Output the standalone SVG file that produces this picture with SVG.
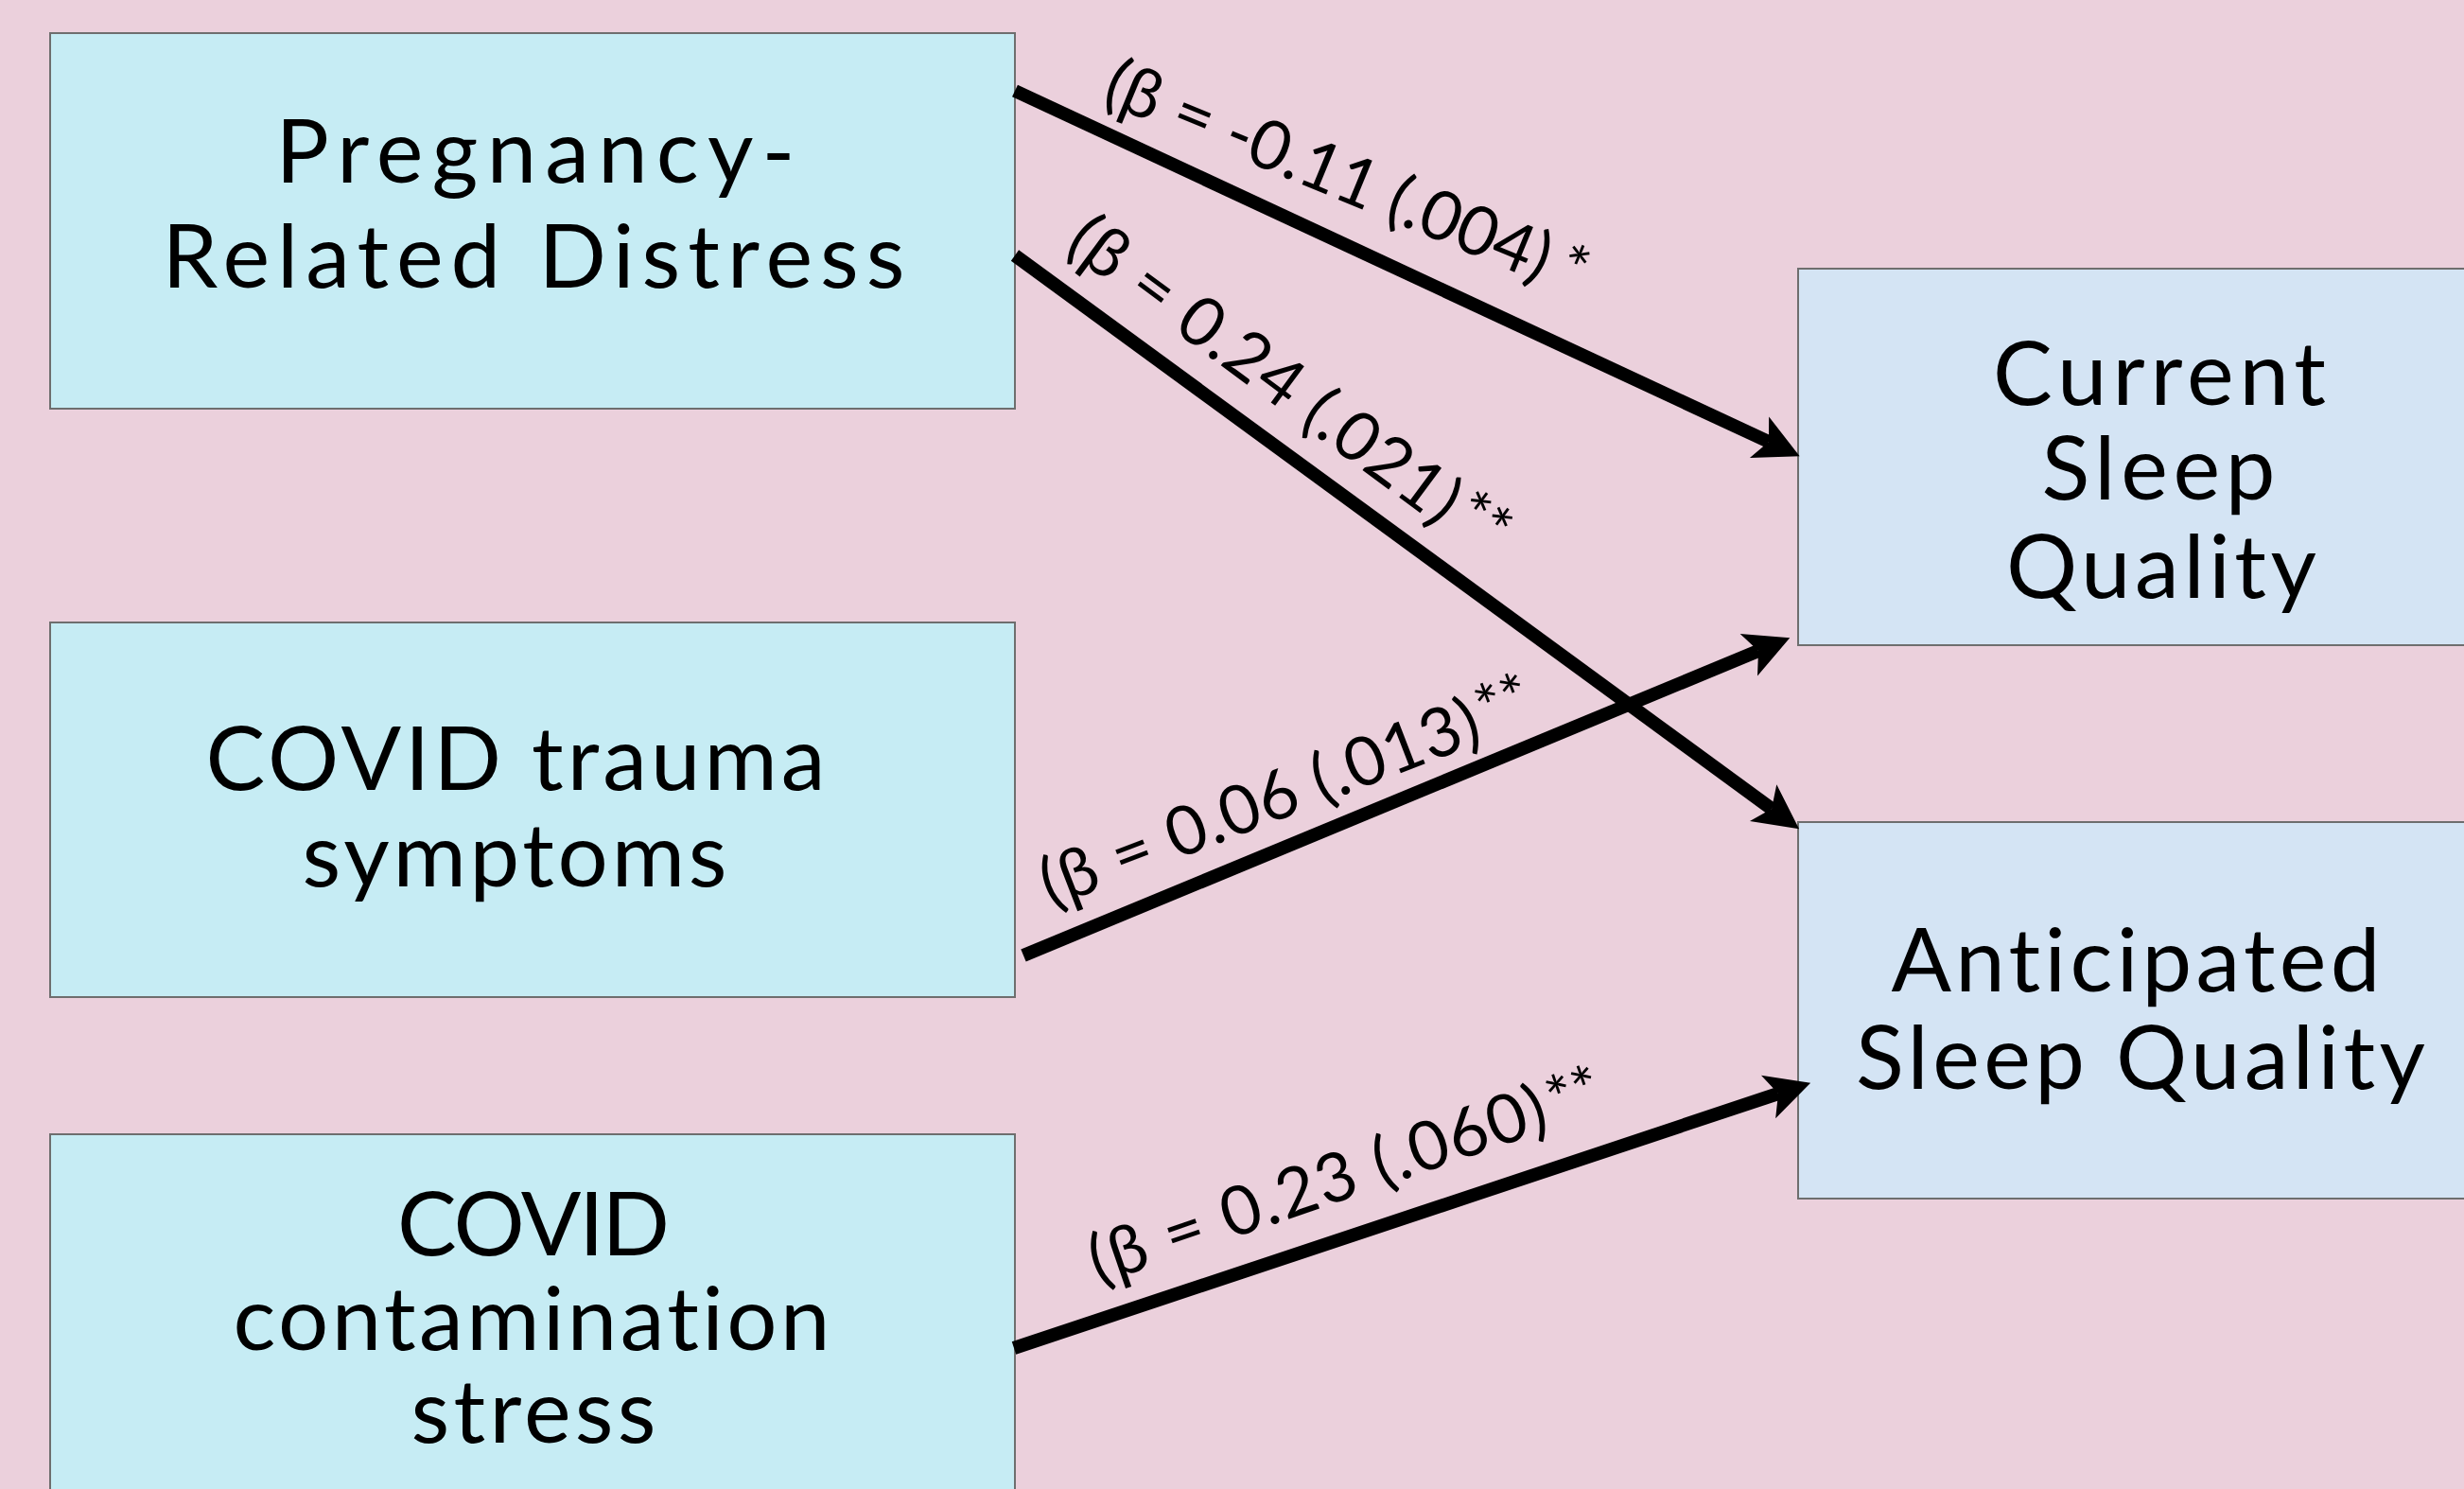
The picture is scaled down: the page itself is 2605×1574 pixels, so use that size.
<svg xmlns="http://www.w3.org/2000/svg" width="2605" height="1574" viewBox="0 0 2605 1574">
<style>
.src{fill:#C6ECF4;stroke:#6E6E6E;stroke-width:2}
.dst{fill:#D4E4F4;stroke:#6E6E6E;stroke-width:2}
.nt{font-family:Lato,"Noto Sans","DejaVu Sans",sans-serif;font-size:94px;fill:#000;text-anchor:middle;font-variant-ligatures:none}
.lb{font-family:Lato,"Noto Sans","DejaVu Sans",sans-serif;font-size:72px;fill:#000;font-variant-ligatures:none}
.st{font-family:Lato,"Noto Sans","DejaVu Sans",sans-serif;font-size:66px;fill:#000;text-anchor:middle}
.edge{fill:none;stroke:#000;stroke-width:14;marker-end:url(#ah)}
</style>
<defs>
<marker id="ah" markerUnits="userSpaceOnUse" viewBox="-14 -26 54 52" markerWidth="54" markerHeight="52" refX="0" refY="0" orient="auto">
<path d="M36,0 L-11,-24 L0,0 L-11,24 Z" fill="#000"/>
</marker>
</defs>
<rect x="0" y="0" width="2605" height="1574" fill="#EBD0DC"/>
<g id="n-pregnancy">
<rect class="src" x="53" y="35" width="1020" height="397"/>
<text class="nt" x="566" y="193" textLength="549" lengthAdjust="spacing">Pregnancy-</text>
<text class="nt" x="564" y="304" textLength="785" lengthAdjust="spacing">Related Distress</text>
</g>
<g id="n-trauma">
<rect class="src" x="53" y="658" width="1020" height="396"/>
<text class="nt" x="545" y="835" textLength="655" lengthAdjust="spacing">COVID trauma</text>
<text class="nt" x="544" y="937" textLength="449" lengthAdjust="spacing">symptoms</text>
</g>
<g id="n-contamination">
<rect class="src" x="53" y="1199" width="1020" height="420"/>
<text class="nt" x="564" y="1327" textLength="288" lengthAdjust="spacing">COVID</text>
<text class="nt" x="562" y="1427" textLength="631" lengthAdjust="spacing">contamination</text>
<text class="nt" x="564" y="1525" textLength="259" lengthAdjust="spacing">stress</text>
</g>
<g id="n-current">
<rect class="dst" x="1901" y="284" width="740" height="398"/>
<text class="nt" x="2283" y="428" textLength="352" lengthAdjust="spacing">Current</text>
<text class="nt" x="2282" y="528" textLength="247" lengthAdjust="spacing">Sleep</text>
<text class="nt" x="2285" y="632" textLength="328" lengthAdjust="spacing">Quality</text>
</g>
<g id="n-anticipated">
<rect class="dst" x="1901" y="869" width="740" height="398"/>
<text class="nt" x="2258" y="1048" textLength="517" lengthAdjust="spacing">Anticipated</text>
<text class="nt" x="2263" y="1151" textLength="602" lengthAdjust="spacing">Sleep Quality</text>
</g>
<g id="connectors">
<path class="edge" d="M1073,96 L1870,467"/>
<path class="edge" d="M1073,270 L1873,855"/>
<path class="edge" d="M1082,1010 L1859,688"/>
<path class="edge" d="M1072,1425 L1880,1156"/>
<text class="lb" transform="translate(1163,107) rotate(22.4)" textLength="503" lengthAdjust="spacing">(β = -0.11 (.004)</text>
<text class="st" transform="translate(1668,274) rotate(22.4)" y="34">*</text>
<text class="lb" transform="translate(1124,263) rotate(36.5)" textLength="495" lengthAdjust="spacing">(β = 0.24 (.021)</text>
<text class="st" transform="translate(1574,542) rotate(36.5)" y="34">**</text>
<text class="lb" transform="translate(1111,960) rotate(-21.1)" textLength="492" lengthAdjust="spacing">(β = 0.06 (.013)</text>
<text class="st" transform="translate(1585,732) rotate(-21.1)" y="34">**</text>
<text class="lb" transform="translate(1161,1358) rotate(-19)" textLength="507" lengthAdjust="spacing">(β = 0.23 (.060)</text>
<text class="st" transform="translate(1660,1146) rotate(-19)" y="34">**</text>
</g>
</svg>
